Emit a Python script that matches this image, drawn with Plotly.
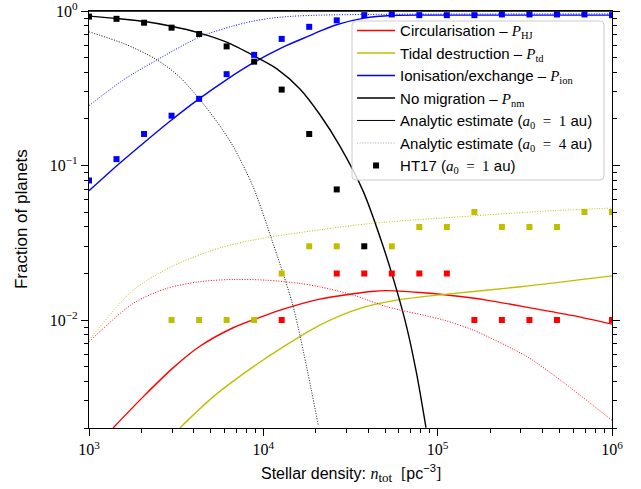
import math
import plotly.graph_objects as go

# ---------------- data ----------------
# HT17 sample densities (pc^-3)
ht_x = [1000, 1438, 2069, 2976, 4281, 6158, 8859, 12743, 18330, 26367,
        37927, 54556, 78476, 112884, 162378, 233572, 335982, 483293, 695193, 1000000]
ht_nm = [0.92, 0.89, 0.84, 0.78, 0.71, 0.59, 0.47, 0.31, 0.16, 0.07,
         0.03, None, None, None, None, None, None, None, None, None]
ht_ion = [0.08, 0.11, 0.16, 0.21, 0.27, 0.39, 0.52, 0.66, 0.79, 0.87,
          0.94, 0.95, 0.94, 0.94, 0.94, 0.95, 0.95, 0.95, 0.95, 0.94]
ht_hj = [None, None, None, None, None, None, None, 0.01, None, 0.02,
         0.02, 0.02, 0.02, 0.02, 0.01, 0.01, 0.01, 0.01, None, 0.01]
ht_td = [None, None, None, 0.01, 0.01, 0.01, 0.01, 0.02, 0.03, 0.03,
         None, 0.03, 0.04, 0.04, 0.05, 0.04, 0.04, 0.04, 0.05, 0.05]

# Analytic estimate, a0 = 1 au (solid)
nm1_x = [1000, 1449, 2089, 2972, 4276, 6166, 8933, 11912, 16218, 21135,
         27542, 37411, 48753, 58210, 66374, 75683, 85704]
nm1_y = [0.926, 0.894, 0.855, 0.797, 0.722, 0.628, 0.509, 0.424, 0.313, 0.213,
         0.133, 0.068, 0.0298, 0.0156, 0.00903, 0.00451, 0.00201]

hj1_x = [1374, 2042, 3034, 4325, 6714, 10000, 13002, 21038, 32810, 41687, 50933,
         79068, 112720, 190985, 353997, 599790, 1000000]
hj1_y = [0.0020, 0.00318, 0.0049, 0.00676, 0.00891, 0.0106, 0.01175, 0.01365, 0.01479, 0.01531,
         0.01549, 0.01507, 0.01452, 0.01346, 0.01189, 0.01067, 0.0094]

td1_x = [3319, 5152, 8730, 13002, 21086, 35810, 58210, 112720, 297200, 1000000]
td1_y = [0.002, 0.00318, 0.00497, 0.0067, 0.00927, 0.0119, 0.01345, 0.0147, 0.0164, 0.0193]

ion1_x = [1000, 1449, 2089, 2972, 4276, 6166, 8933, 12882, 18281, 21135, 26303,
          37931, 54702, 100000, 1000000]
ion1_y = [0.0686, 0.100, 0.142, 0.197, 0.27, 0.36, 0.468, 0.582, 0.69, 0.74, 0.815,
          0.90, 0.935, 0.94, 0.94]

# Analytic estimate, a0 = 4 au (dotted)
nm4_x = [1000, 1585, 2438, 3300, 4325, 5500, 6714, 8730, 11190, 14830, 20650]
nm4_y = [0.733, 0.615, 0.485, 0.375, 0.267, 0.1875, 0.133, 0.073, 0.033, 0.0122, 0.0021]

hj4_x = [1000, 1791, 2780, 4325, 6699, 10423, 16144, 21038, 32810, 50933,
         107900, 159956, 324340, 503500, 1000000]
hj4_y = [0.00722, 0.0128, 0.016, 0.0177, 0.0183, 0.0181, 0.01726, 0.0164, 0.0145, 0.0122,
         0.0100, 0.0086, 0.0058, 0.0041, 0.00224]

td4_x = [1000, 1791, 3034, 5754, 10000, 21038, 42658, 159956, 461318, 1000000]
td4_y = [0.0074, 0.0156, 0.0224, 0.0295, 0.0339, 0.0383, 0.0423, 0.0472, 0.051, 0.053]

ion4_x = [1000, 1585, 2438, 4325, 6714, 8730, 11220, 14791, 20893, 39811, 100000, 1000000]
ion4_y = [0.244, 0.36, 0.48, 0.68, 0.80, 0.86, 0.90, 0.925, 0.94, 0.95, 0.955, 0.958]

x_tickvals = [1e3, 1e4, 1e5, 1e6]
x_ticktext = ["10<sup>3</sup>", "10<sup>4</sup>", "10<sup>5</sup>", "10<sup>6</sup>"]
y_tickvals = [1e-2, 1e-1, 1e0]
y_ticktext = ["10<sup>\u22122</sup>", "10<sup>\u22121</sup>", "10<sup>0</sup>"]

# ---------------- styling ----------------
RED, YEL, BLU, BLK = "#ff0000", "#bfbf00", "#0000ff", "#000000"
SERIF = "Liberation Serif"
SANS = "Liberation Sans"
EQ = "\u2002=\u2002"
PLOT_H = 417  # plot-area height in px (489 - 11 - 61)


def m(s):
    return f'<span style="font-family:{SERIF}">{s}</span>'


fig = go.Figure()

solid = [
    (hj1_x, hj1_y, RED, "Circularisation \u2013 " + m("<i>P</i><sub>HJ</sub>")),
    (td1_x, td1_y, YEL, "Tidal destruction \u2013 " + m("<i>P</i><sub>td</sub>")),
    (ion1_x, ion1_y, BLU, "Ionisation/exchange \u2013 " + m("<i>P</i><sub>ion</sub>")),
    (nm1_x, nm1_y, BLK, "No migration \u2013 " + m("<i>P</i><sub>nm</sub>")),
]
for xs, ys, c, name in solid:
    fig.add_trace(go.Scatter(x=xs, y=ys, mode="lines", name=name,
                             line=dict(color=c, width=1.4, shape="spline", smoothing=0.8)))

dotted = [(hj4_x, hj4_y, RED), (td4_x, td4_y, YEL), (ion4_x, ion4_y, BLU), (nm4_x, nm4_y, BLK)]
for xs, ys, c in dotted:
    fig.add_trace(go.Scatter(x=xs, y=ys, mode="lines", showlegend=False,
                             line=dict(color=c, width=1, dash="1px,1.6px",
                                       shape="spline", smoothing=0.8)))

fig.add_trace(go.Scatter(x=[None], y=[None], mode="lines",
                         name="Analytic estimate (" + m("<i>a</i><sub>0</sub>" + EQ + "1") + " au)",
                         line=dict(color=BLK, width=1)))
fig.add_trace(go.Scatter(x=[None], y=[None], mode="lines",
                         name="Analytic estimate (" + m("<i>a</i><sub>0</sub>" + EQ + "4") + " au)",
                         line=dict(color="#9aa3b5", width=1, dash="1px,1.6px")))

for ys, c in [(ht_hj, RED), (ht_td, YEL), (ht_ion, BLU), (ht_nm, BLK)]:
    fig.add_trace(go.Scatter(x=ht_x, y=ys, mode="markers", showlegend=False,
                             marker=dict(symbol="square", size=6, color=c, line=dict(width=0))))
fig.add_trace(go.Scatter(x=[None], y=[None], mode="markers",
                         name="HT17 (" + m("<i>a</i><sub>0</sub>" + EQ + "1") + " au)",
                         marker=dict(symbol="square", size=6, color=BLK)))

x_minor = [k * 10 ** d for d in (3, 4, 5) for k in range(2, 10)]
y_minor = [k * 10 ** d for d in (-3, -2, -1) for k in range(2, 10)]

axis_common = dict(
    type="log", showline=True, linecolor="black", linewidth=1.3,
    ticks="outside", ticklen=7, tickwidth=1, tickcolor="black",
    showgrid=False, zeroline=False, tickmode="array", automargin=False,
    ticklabeloverflow="allow",
    tickfont=dict(family=SERIF, size=16, color="black"),
)
minor_x = dict(tickmode="array", tickvals=x_minor, ticks="outside", ticklen=4,
               tickwidth=1, tickcolor="black", showgrid=False)
minor_y = dict(tickmode="array", tickvals=y_minor, ticks="outside", ticklen=4,
               tickwidth=1, tickcolor="black", showgrid=False)

# rounded legend frame (paper coordinates)
x0, x1, y0, y1 = 0.5029, 0.9847, 0.5947, 0.976
rx, ry = 4 / 523, 4 / PLOT_H
frame = (f"M{x0 + rx},{y1} L{x1 - rx},{y1} Q{x1},{y1} {x1},{y1 - ry} "
         f"L{x1},{y0 + ry} Q{x1},{y0} {x1 - rx},{y0} L{x0 + rx},{y0} "
         f"Q{x0},{y0} {x0},{y0 + ry} L{x0},{y1 - ry} Q{x0},{y1} {x0 + rx},{y1} Z")

shapes = [dict(type="path", path=frame, xref="paper", yref="paper", layer="above",
               fillcolor="rgba(255,255,255,0.8)", line=dict(color="#cccccc", width=1))]
# top frame line and its outward ticks (positions taken from the tick lists)
shapes.append(dict(type="line", xref="paper", yref="paper", x0=0, x1=1, y0=1, y1=1,
                   layer="above", line=dict(color="black", width=1.3)))
for vals, ln in ((x_tickvals, 7), (x_minor, 4)):
    for v in vals:
        lv = math.log10(v)
        shapes.append(dict(type="line", xref="x", yref="paper", x0=lv, x1=lv,
                           y0=1, y1=1 + ln / PLOT_H, layer="above",
                           line=dict(color="black", width=1)))

fig.update_layout(
    width=641, height=489,
    margin=dict(l=89, r=29, t=11, b=61, autoexpand=False),
    paper_bgcolor="white", plot_bgcolor="white",
    font=dict(family=SANS, size=15, color="black"),
    xaxis=dict(**axis_common, mirror=True, range=[3, 6], tickvals=x_tickvals,
               ticktext=x_ticktext, minor=minor_x),
    yaxis=dict(**axis_common, mirror="ticks", range=[-2.69897, 0], tickvals=y_tickvals,
               ticktext=y_ticktext, minor=minor_y),
    shapes=shapes,
    legend=dict(x=0.503, y=0.9923, xanchor="left", yanchor="top",
                bgcolor="rgba(0,0,0,0)", borderwidth=0, itemwidth=38,
                font=dict(family=SANS, size=15, color="black"), tracegroupgap=0),
    annotations=[
        dict(text="Stellar density: " + m("<i>n</i>") +
                  "<sub>" + m('<span style="font-size:13px">tot</span>') + "</sub>" +
                  "  " + m("[") + "pc<sup>\u22123</sup>" + m("]"),
             xref="paper", yref="paper", x=0.5, y=-0.108, xanchor="center", yanchor="middle",
             showarrow=False, font=dict(family=SANS, size=16, color="black")),
        dict(text="Fraction of planets", xref="paper", yref="paper", x=-0.129, y=0.5,
             xanchor="center", yanchor="middle", textangle=-90, showarrow=False,
             font=dict(family=SANS, size=17, color="black")),
    ],
)

fig.write_html("out.html")
